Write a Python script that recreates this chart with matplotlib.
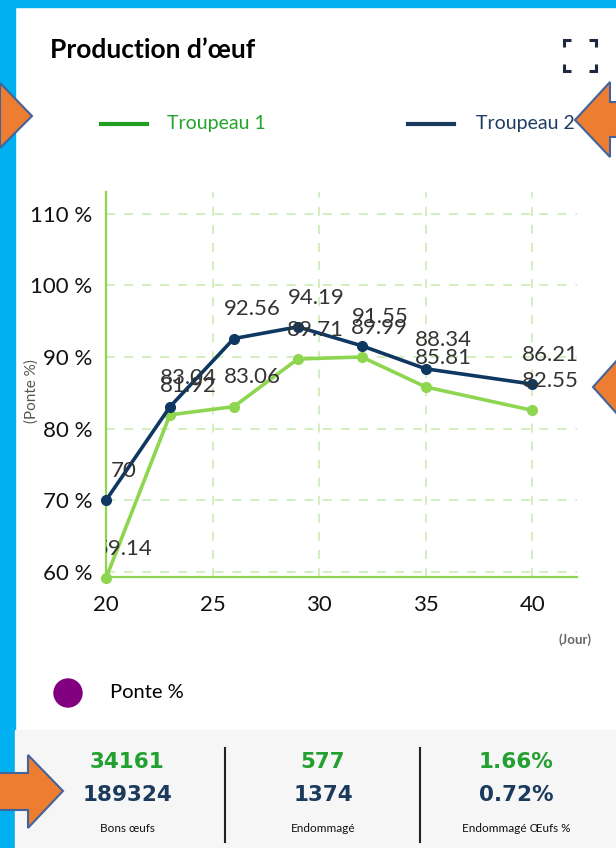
import matplotlib.pyplot as plt
from matplotlib.patches import Rectangle, Polygon, Ellipse
from matplotlib.lines import Line2D

# donnees du graphique
jours = [20, 23, 26, 29, 32, 35, 40]
troupeau_1 = [59.14, 81.92, 83.06, 89.71, 89.99, 85.81, 82.55]
troupeau_2 = [70, 83.04, 92.56, 94.19, 91.55, 88.34, 86.21]
y_ticks = [60, 70, 80, 90, 100, 110]
x_ticks = [20, 25, 30, 35, 40]

stats_vert = ['34161', '577', '1.66%']
stats_bleu = ['189324', '1374', '0.72%']
stats_noms = ['Bons œufs', 'Endommagé', 'Endommagé Œufs %']

W, H = 616, 848
VERT_LIGNE = '#8fd650'
VERT_GRILLE = '#cfeebb'
MARINE = '#0e3862'
VERT_LEG = '#1f9e22'
BLEU_BORD = '#00b0f0'
ORANGE = '#ed7d31'
CONTOUR = '#41649c'


def fx(px):
    return px / W


def fy(py):
    return 1 - py / H


fig = plt.figure(figsize=(W / 100, H / 100), dpi=100)
fig.patch.set_facecolor('white')

# cadre bleu + zone grise du bas
fig.add_artist(Rectangle((0, 0), fx(15), 1, transform=fig.transFigure, color=BLEU_BORD, zorder=0))
fig.add_artist(Rectangle((0, fy(7)), 1, 1, transform=fig.transFigure, color=BLEU_BORD, zorder=0))
fig.add_artist(Rectangle((fx(15), 0), 1, fy(730), transform=fig.transFigure, color='#f6f6f6', zorder=0))

# titre et icone
fig.text(fx(50), fy(50), 'Production d’œuf', fontsize=19, fontweight='bold',
         family='Lato', va='center', ha='left', color='black')
for cx, cy, dx, dy in [(564, 40, 1, 1), (596, 40, -1, 1), (564, 71, 1, -1), (596, 71, -1, -1)]:
    fig.add_artist(Line2D([fx(cx + 7 * dx), fx(cx), fx(cx)], [fy(cy), fy(cy), fy(cy + 7 * dy)],
                          transform=fig.transFigure, color='#1c2740', lw=2.2,
                          solid_joinstyle='miter', solid_capstyle='butt'))

# legende
fig.add_artist(Line2D([fx(101), fx(147)], [fy(124), fy(124)], transform=fig.transFigure, color=VERT_LEG, lw=3))
fig.text(fx(167), fy(123), 'Troupeau 1', fontsize=14, family='Lato', color='#22a52a', va='center')
fig.add_artist(Line2D([fx(408), fx(454)], [fy(124), fy(124)], transform=fig.transFigure, color='#1a3a5e', lw=3))
fig.text(fx(476), fy(123), 'Troupeau 2', fontsize=14, family='Lato', color='#1f3d63', va='center')

# graphique
ax = fig.add_axes([fx(106), fy(577), fx(577) - fx(106), fy(192) - fy(577)])
ax.set_xlim(20, 42.1)
ax.set_ylim(59.3, 113)
ax.grid(True, color=VERT_GRILLE, linestyle=(0, (5, 5)), linewidth=1.3)
ax.set_axisbelow(True)
for s in ['top', 'right']:
    ax.spines[s].set_visible(False)
for s in ['left', 'bottom']:
    ax.spines[s].set_color(VERT_LIGNE)
    ax.spines[s].set_linewidth(1.6)
ax.set_yticks(y_ticks)
ax.set_yticklabels([f'{v} %' for v in y_ticks])
ax.set_xticks(x_ticks)
ax.tick_params(axis='both', length=0, labelsize=16, labelcolor='#111111')
ax.tick_params(axis='y', pad=10)
ax.tick_params(axis='x', pad=13)
for lab in ax.get_xticklabels() + ax.get_yticklabels():
    lab.set_family('Lato')

ax.plot(jours, troupeau_1, color=VERT_LIGNE, lw=2.6, marker='o', markersize=7, zorder=3, clip_on=False)
ax.plot(jours, troupeau_2, color=MARINE, lw=2.6, marker='o', markersize=7, zorder=4, clip_on=False)

for serie in [troupeau_1, troupeau_2]:
    for x, y in zip(jours, serie):
        lab = f'{y:g}'
        ax.annotate(lab, (x, y), xytext=(13, 21), textcoords='offset points',
                    ha='center', va='center', fontsize=16, family='Lato',
                    color='#333333', zorder=5, annotation_clip=False, clip_on=True)

fig.text(fx(32), fy(391), '(Ponte %)', rotation=90, fontsize=11, color='#555555',
         family='Lato', ha='center', va='center')
fig.text(fx(575), fy(640), '(Jour)', fontsize=9.5, fontweight='bold', color='#666666',
         family='Lato', ha='center', va='center')

# ponte %
fig.add_artist(Ellipse((fx(68), fy(693)), 28 / W, 28 / H, transform=fig.transFigure, color='#800080'))
fig.text(fx(110), fy(693), 'Ponte %', fontsize=14.5, family='Lato', color='black', va='center')

# statistiques
for i, cx in enumerate([127, 323, 516]):
    fig.text(fx(cx), fy(762), stats_vert[i], fontsize=15.5, fontweight='bold', color='#22a030',
             ha='center', va='center', family='DejaVu Sans')
    fig.text(fx(cx), fy(795), stats_bleu[i], fontsize=15.5, fontweight='bold', color='#1b3a5c',
             ha='center', va='center', family='DejaVu Sans')
    fig.text(fx(cx), fy(828), stats_noms[i], fontsize=8.5, color='#111111',
             ha='center', va='center', family='Lato')
for dx in [225, 420]:
    fig.add_artist(Line2D([fx(dx), fx(dx)], [fy(748), fy(842)], transform=fig.transFigure,
                          color='#222222', lw=1.5))

# fleches orange
fleches = [
    [(0, 83), (32, 116), (0, 148)],
    [(575, 120), (610, 82), (610, 102), (620, 102), (620, 137), (610, 137), (610, 157)],
    [(593, 387), (619, 358), (619, 416)],
    [(-5, 773), (28, 773), (28, 755), (63, 791), (28, 828), (28, 810), (-5, 810)],
]
for pts in fleches:
    fig.add_artist(Polygon([(fx(a), fy(b)) for a, b in pts], closed=True, transform=fig.transFigure,
                           facecolor=ORANGE, edgecolor=CONTOUR, lw=1.5, zorder=10))

fig.savefig('out.png', dpi=100)
